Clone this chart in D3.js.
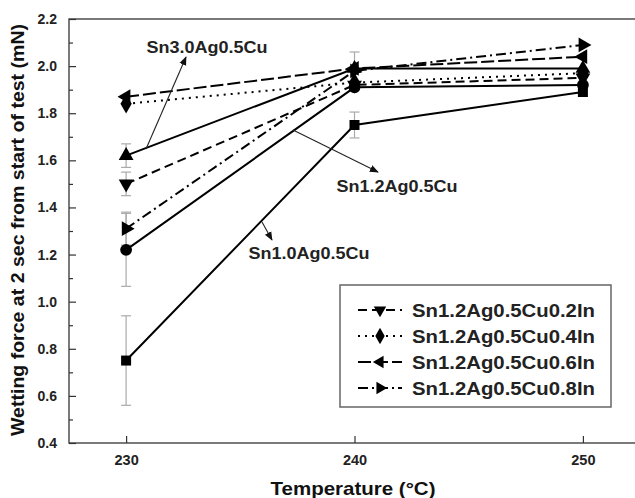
<!DOCTYPE html>
<html><head><meta charset="utf-8">
<script src="https://cdn.jsdelivr.net/npm/d3@7"></script>
<style>body{margin:0;background:#fff}svg{display:block}</style>
</head><body>
<script>
const temps = [230, 240, 250];
const seriesNames = ["Sn1.0Ag0.5Cu","Sn1.2Ag0.5Cu","Sn3.0Ag0.5Cu","Sn1.2Ag0.5Cu0.2In","Sn1.2Ag0.5Cu0.4In","Sn1.2Ag0.5Cu0.6In","Sn1.2Ag0.5Cu0.8In"];
const sn10 = [0.75, 1.75, 1.89];
const sn10Err = [0.19, 0.055, 0];
const sn12 = [1.22, 1.91, 1.92];
const sn12Err = [0.155, 0, 0];
const sn30 = [1.62, 1.99, 1.99];
const sn30Err = [0.05, 0.07, 0];
const in02 = [1.50, 1.92, 1.95];
const in02Err = [0.05, 0, 0];
const in04 = [1.84, 1.93, 1.97];
const in04Err = [0, 0, 0];
const in06 = [1.87, 1.99, 2.04];
const in06Err = [0, 0, 0];
const in08 = [1.31, 1.98, 2.09];
const in08Err = [0.07, 0, 0];
const yTicks = [0.4, 0.6, 0.8, 1.0, 1.2, 1.4, 1.6, 1.8, 2.0, 2.2];
const xTicks = [230, 240, 250];
const legendNames = ["Sn1.2Ag0.5Cu0.2In","Sn1.2Ag0.5Cu0.4In","Sn1.2Ag0.5Cu0.6In","Sn1.2Ag0.5Cu0.8In"];

const W = 635, H = 498;
const svg = d3.select("body").append("svg").attr("width", W).attr("height", H);
const font = "'Liberation Sans', Arial, sans-serif";
const x = d3.scaleLinear().domain([227.5, 252.5]).range([69, 640]);
const y = d3.scaleLinear().domain([0.4, 2.2]).range([443, 19]);

const styles = [
  {vals: sn10, err: sn10Err, sym: d3.symbolSquare, rot: 0, dash: null, size: 100},
  {vals: sn12, err: sn12Err, sym: d3.symbolCircle, rot: 0, dash: null, size: 110},
  {vals: sn30, err: sn30Err, sym: d3.symbolTriangle, rot: 0, dash: null, size: 95},
  {vals: in02, err: in02Err, sym: d3.symbolTriangle, rot: 180, dash: "9,5", size: 95},
  {vals: in04, err: in04Err, sym: d3.symbolDiamond, rot: 0, dash: "2,5", size: 110},
  {vals: in06, err: in06Err, sym: d3.symbolTriangle, rot: -90, dash: "13,4", size: 95},
  {vals: in08, err: in08Err, sym: d3.symbolTriangle, rot: 90, dash: "10,4,2,4", size: 95}
];

// frame
const g = svg.append("g");
g.append("rect").attr("x", x(227.5)).attr("y", y(2.2)).attr("width", x(252.5)-x(227.5)).attr("height", y(0.4)-y(2.2))
  .attr("fill","none").attr("stroke","#333").attr("stroke-width",1.3);

// axes with inner ticks
const yAxis = d3.axisLeft(y).tickValues(yTicks).tickFormat(d3.format(".1f")).tickSizeInner(-7).tickSizeOuter(0).tickPadding(12);
const ya = g.append("g").attr("transform", `translate(${x(227.5)},0)`).call(yAxis);
ya.select(".domain").remove();
ya.selectAll("line").attr("stroke","#333").attr("stroke-width",1.2);
ya.selectAll("text").attr("font-family",font).attr("font-weight","bold").attr("font-size",14).attr("fill","#222");
const yMinor = d3.axisLeft(y).tickValues(d3.range(0.5, 2.2, 0.2)).tickFormat("").tickSizeInner(-4).tickSizeOuter(0);
const ym = g.append("g").attr("transform", `translate(${x(227.5)},0)`).call(yMinor);
ym.select(".domain").remove();
ym.selectAll("line").attr("stroke","#333").attr("stroke-width",1.2);

const xAxis = d3.axisBottom(x).tickValues(xTicks).tickFormat(d3.format("d")).tickSizeInner(-7).tickSizeOuter(0).tickPadding(12);
const xa = g.append("g").attr("transform", `translate(0,${y(0.4)})`).call(xAxis);
xa.select(".domain").remove();
xa.selectAll("line").attr("stroke","#333").attr("stroke-width",1.2);
xa.selectAll("text").attr("font-family",font).attr("font-weight","bold").attr("font-size",14.5).attr("fill","#222");

// axis titles
svg.append("text").attr("x", 353).attr("y", 495).attr("text-anchor","middle")
  .attr("font-family",font).attr("font-weight","bold").attr("font-size",19).attr("fill","#111")
  .attr("textLength",165).attr("lengthAdjust","spacingAndGlyphs")
  .text("Temperature (\u00B0C)");
svg.append("text").attr("transform","translate(24,230) rotate(-90)").attr("text-anchor","middle")
  .attr("font-family",font).attr("font-weight","bold").attr("font-size",17.5).attr("fill","#111")
  .attr("textLength",412).attr("lengthAdjust","spacingAndGlyphs")
  .text("Wetting force at 2 sec from start of test (mN)");

// error bars
styles.forEach(s => {
  s.vals.forEach((v, i) => {
    if (!s.err[i]) return;
    const cx = x(temps[i]), y1 = y(v + s.err[i]), y2 = y(v - s.err[i]);
    g.append("line").attr("x1",cx).attr("x2",cx).attr("y1",y1).attr("y2",y2).attr("stroke","#aaa").attr("stroke-width",1.2);
    [y1, y2].forEach(yy => g.append("line").attr("x1",cx-5).attr("x2",cx+5).attr("y1",yy).attr("y2",yy).attr("stroke","#aaa").attr("stroke-width",1.2));
  });
});

// lines
const line = d3.line().x((d,i) => x(temps[i])).y(d => y(d));
styles.forEach(s => {
  g.append("path").attr("d", line(s.vals)).attr("fill","none").attr("stroke","#000").attr("stroke-width",2)
    .attr("stroke-dasharray", s.dash);
});
// markers
styles.forEach(s => {
  s.vals.forEach((v, i) => {
    g.append("path").attr("d", d3.symbol().type(s.sym).size(s.size)())
      .attr("transform", `translate(${x(temps[i])},${y(v)}) rotate(${s.rot})`).attr("fill","#000");
  });
});

// annotations
svg.append("defs").append("marker").attr("id","ah").attr("viewBox","0 0 10 10").attr("refX",9).attr("refY",5)
  .attr("markerWidth",9).attr("markerHeight",9).attr("orient","auto").attr("markerUnits","userSpaceOnUse")
  .append("path").attr("d","M0,1 L10,5 L0,9 Z").attr("fill","#111");
const ann = [
  {t:"Sn3.0Ag0.5Cu", tx:207, ty:53, x1:146, y1:149, x2:186, y2:57},
  {t:"Sn1.2Ag0.5Cu", tx:397, ty:192, x1:293, y1:130, x2:378, y2:172},
  {t:"Sn1.0Ag0.5Cu", tx:309, ty:259, x1:262, y1:222, x2:272, y2:240}
];
ann.forEach(a => {
  svg.append("line").attr("x1",a.x1).attr("y1",a.y1).attr("x2",a.x2).attr("y2",a.y2)
    .attr("stroke","#222").attr("stroke-width",1.1).attr("marker-end","url(#ah)");
  svg.append("text").attr("x",a.tx).attr("y",a.ty).attr("text-anchor","middle")
    .attr("font-family",font).attr("font-weight","bold").attr("font-size",16).attr("fill","#222")
    .attr("textLength",121).attr("lengthAdjust","spacingAndGlyphs").text(a.t);
});

// legend
const lg = svg.append("g");
lg.append("rect").attr("x",340).attr("y",285).attr("width",271).attr("height",122)
  .attr("fill","#fff").attr("stroke","#666").attr("stroke-width",1.5);
legendNames.forEach((n, k) => {
  const s = styles[3 + k];
  const ly = 310 + k * 26;
  lg.append("line").attr("x1",358).attr("x2",402).attr("y1",ly).attr("y2",ly).attr("stroke","#000").attr("stroke-width",2)
    .attr("stroke-dasharray", s.dash);
  lg.append("path").attr("d", d3.symbol().type(s.sym).size(s.size*0.7)())
    .attr("transform",`translate(380,${ly}) rotate(${s.rot})`).attr("fill","#000");
  lg.append("text").attr("x",412).attr("y",ly+6.5).attr("font-family",font).attr("font-weight","bold")
    .attr("font-size",18.5).attr("fill","#222")
    .attr("textLength",183).attr("lengthAdjust","spacingAndGlyphs").text(n);
});
</script>
</body></html>
